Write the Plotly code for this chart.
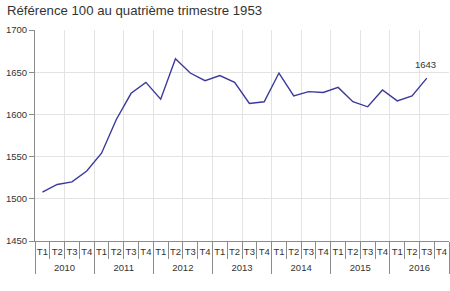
import plotly.graph_objects as go

title_text = "Référence 100 au quatrième trimestre 1953"
years = ["2010", "2011", "2012", "2013", "2014", "2015", "2016"]
quarters = ["T1", "T2", "T3", "T4"]
values = [1508, 1517, 1520, 1533, 1554, 1594, 1625, 1638,
          1618, 1666, 1649, 1640, 1646, 1638, 1613, 1615,
          1649, 1622, 1627, 1626, 1632, 1615, 1609, 1629,
          1616, 1622, 1643, None]
last_label = "1643"
y_ticks = [1450, 1500, 1550, 1600, 1650, 1700]

q_labels = [q for _ in years for q in quarters]
n = len(q_labels)
nq = len(quarters)
idx = list(range(n))
xr = [-0.5, n - 0.5]

FONT = "Liberation Sans, Arial, sans-serif"
TXT = "#333333"
AX = "#8c8c8c"
GRID = "#e3e3e3"
FS = 9.5

fig = go.Figure()
fig.add_trace(go.Scatter(
    x=idx, y=values, mode="lines",
    line=dict(color="#3a3a9c", width=1.4), hoverinfo="skip", showlegend=False))
for ax in ["x2", "x3", "x4", "x5"]:
    fig.add_trace(go.Scatter(x=xr, y=[None, None], xaxis=ax, mode="lines",
                             hoverinfo="skip", showlegend=False))

fig.add_annotation(x=n - 2, y=values[n - 2], xref="x", yref="y",
                   text=last_label, showarrow=False, yshift=14, xshift=-1,
                   font=dict(family=FONT, size=FS, color=TXT))

common = dict(range=xr, zeroline=False, showgrid=False)
fig.update_layout(
    width=450, height=291,
    margin=dict(l=35, r=1, t=30, b=50),
    paper_bgcolor="white", plot_bgcolor="white",
    font=dict(family=FONT, size=FS, color=TXT),
    title=dict(text=title_text, x=0, xref="container", xanchor="left",
               y=0.963, yref="container", yanchor="middle",
               font=dict(family=FONT, size=13.2, color=TXT), pad=dict(l=7)),
    # quarter labels + data axis
    xaxis=dict(**common, tickmode="array", tickvals=idx, ticktext=q_labels,
               tickangle=0, ticks="", showline=True, linecolor=AX, linewidth=1,
               ticklabelstandoff=2,
               tickfont=dict(family=FONT, size=FS, color=TXT)),
    # vertical grid every two quarters
    xaxis2=dict(overlaying="x", range=xr, zeroline=False, showgrid=True,
                gridcolor=GRID, gridwidth=1,
                tickvals=[i + 1.5 for i in range(0, n - 2, 2)],
                showticklabels=False, ticks=""),
    # quarter separators
    xaxis3=dict(**common, overlaying="x", tickvals=[i - 0.5 for i in range(n + 1)],
                showticklabels=False, ticks="outside", ticklen=17,
                tickcolor=AX, tickwidth=1),
    # year dividers
    xaxis4=dict(**common, overlaying="x",
                tickvals=[i - 0.5 for i in range(0, n + 1, nq)],
                showticklabels=False, ticks="outside", ticklen=32,
                tickcolor=AX, tickwidth=1),
    # year labels
    xaxis5=dict(**common, overlaying="x",
                tickvals=[i * nq + (nq - 1) / 2 for i in range(len(years))],
                ticktext=years, ticks="", ticklabelstandoff=19, tickangle=0,
                tickfont=dict(family=FONT, size=FS, color=TXT)),
    yaxis=dict(range=[1450, 1700], tickvals=y_ticks, showgrid=True,
               gridcolor=GRID, gridwidth=1, showline=True, linecolor=AX,
               ticks="outside", ticklen=5, tickcolor=AX,
               tickfont=dict(family=FONT, size=FS, color=TXT), zeroline=False),
)

fig.write_html("out.html")
